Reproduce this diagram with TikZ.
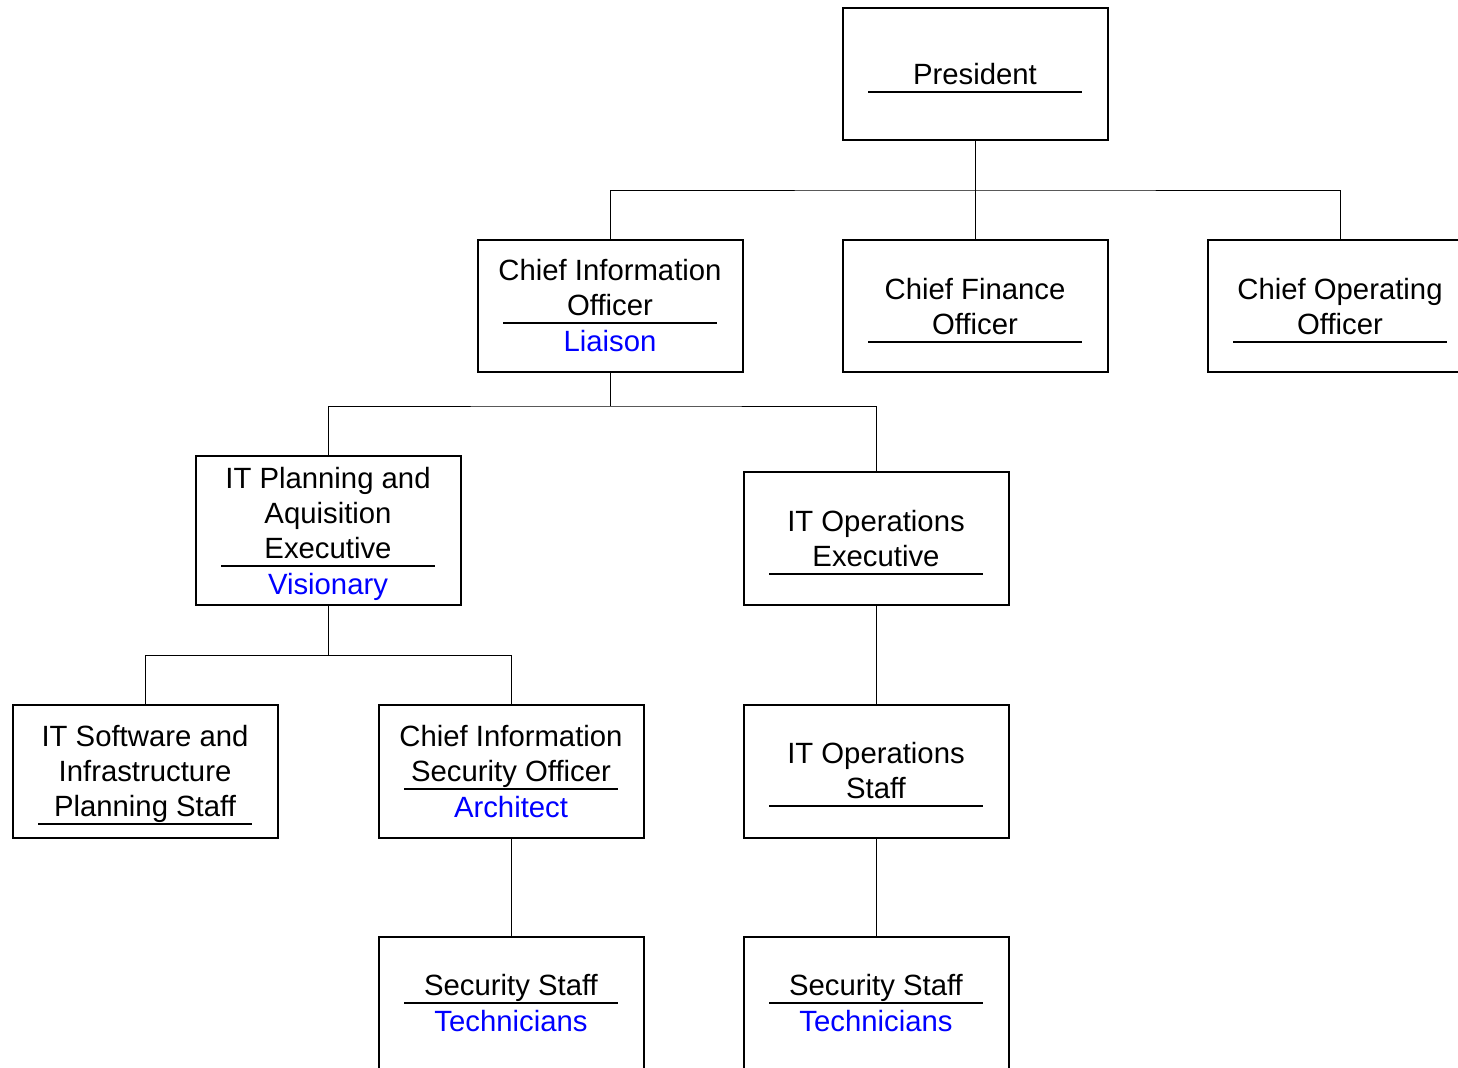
\documentclass[tikz,border=0pt]{standalone}
\usepackage{fontspec}
\setmainfont{Liberation Sans}
\usepackage{tikz}

\begin{document}
\begin{tikzpicture}[x=0.5pt,y=-0.5pt,
	post/.style={shape=rectangle,draw=black,line width=1pt,minimum width=132.5pt,minimum height=66pt,inner sep=0pt},
	title/.style={align=center,anchor=south,inner sep=0pt,text depth=0pt,yshift=-0.8pt,font=\fontsize{14.65}{17.5}\selectfont},
	role/.style={title,text=blue},
	rule/.style={line width=1pt},
	link/.style={line width=0.5pt}]

	\useasboundingbox (0,0) rectangle (1458,1067);

	% boxes
	\node[post] (pres) at (975, 74)     {};
	\node[post] (cio)  at (610, 306)    {};
	\node[post] (cfo)  at (975, 306)    {};
	\node[post] (coo)  at (1340, 306)   {};

	\node[post,minimum height=74.5pt] (plan) at (328, 530.5)  {};
	\node[post,minimum height=66.5pt] (opsx) at (876, 538.5)  {};

	\node[post,minimum height=66.5pt] (soft) at (145, 771.5)  {};
	\node[post,minimum height=66.5pt] (ciso) at (511, 771.5)  {};
	\node[post,minimum height=66.5pt] (opss) at (876, 771.5)  {};

	\node[post] (sec1) at (511, 1003)   {};
	\node[post] (sec2) at (876, 1003)   {};

	% titles
	\node[title] (presT) at (975, 83)   {President};
	\node[title] (cioT)  at (610, 314)  {Chief Information\\Officer};
	\node[role]  (cioR)  at (610, 350)  {Liaison};
	\node[title] (cfoT)  at (975, 333)  {Chief Finance\\Officer};
	\node[title] (cooT)  at (1340, 333) {Chief Operating\\Officer};
	\node[title] (planT) at (328, 557)  {IT Planning and\\Aquisition\\Executive};
	\node[role]  (planR) at (328, 593)  {Visionary};
	\node[title] (opsxT) at (876, 565)  {IT Operations\\Executive};
	\node[title] (softT) at (145, 815)  {IT Software and\\Infrastructure\\Planning Staff};
	\node[title] (cisoT) at (511, 780)  {Chief Information\\Security Officer};
	\node[role]  (cisoR) at (511, 816)  {Architect};
	\node[title] (opssT) at (876, 797)  {IT Operations\\Staff};
	\node[title] (sec1T) at (511, 994)  {Security Staff};
	\node[role]  (sec1R) at (511, 1030) {Technicians};
	\node[title] (sec2T) at (876, 994)  {Security Staff};
	\node[role]  (sec2R) at (876, 1030) {Technicians};

	% rules under the titles
	\draw[rule] (868, 92)   -- (1082, 92);
	\draw[rule] (503, 323)  -- (717, 323);
	\draw[rule] (868, 342)  -- (1082, 342);
	\draw[rule] (1233, 342) -- (1447, 342);
	\draw[rule] (221, 566)  -- (435, 566);
	\draw[rule] (769, 574)  -- (983, 574);
	\draw[rule] (38, 824)   -- (252, 824);
	\draw[rule] (404, 789)  -- (618, 789);
	\draw[rule] (769, 806)  -- (983, 806);
	\draw[rule] (404, 1003) -- (618, 1003);
	\draw[rule] (769, 1003) -- (983, 1003);

	% connectors
	\coordinate (busA) at (975, 190);
	\coordinate (busB) at (610, 406);
	\coordinate (busC) at (328, 655);

	\draw[link] (pres) -- (cfo);
	\draw[link] (cio) |- (busA) -| (coo);
	\draw[link] (cio) -- (busB);
	\draw[link] (plan) |- (busB) -| (opsx);
	\draw[link] (plan) -- (busC);
	\draw[link] (soft) |- (busC) -| (ciso);
	\draw[link] (opsx) -- (opss);
	\draw[link] (ciso) -- (sec1);
	\draw[link] (opss) -- (sec2);

\end{tikzpicture}
\end{document}
